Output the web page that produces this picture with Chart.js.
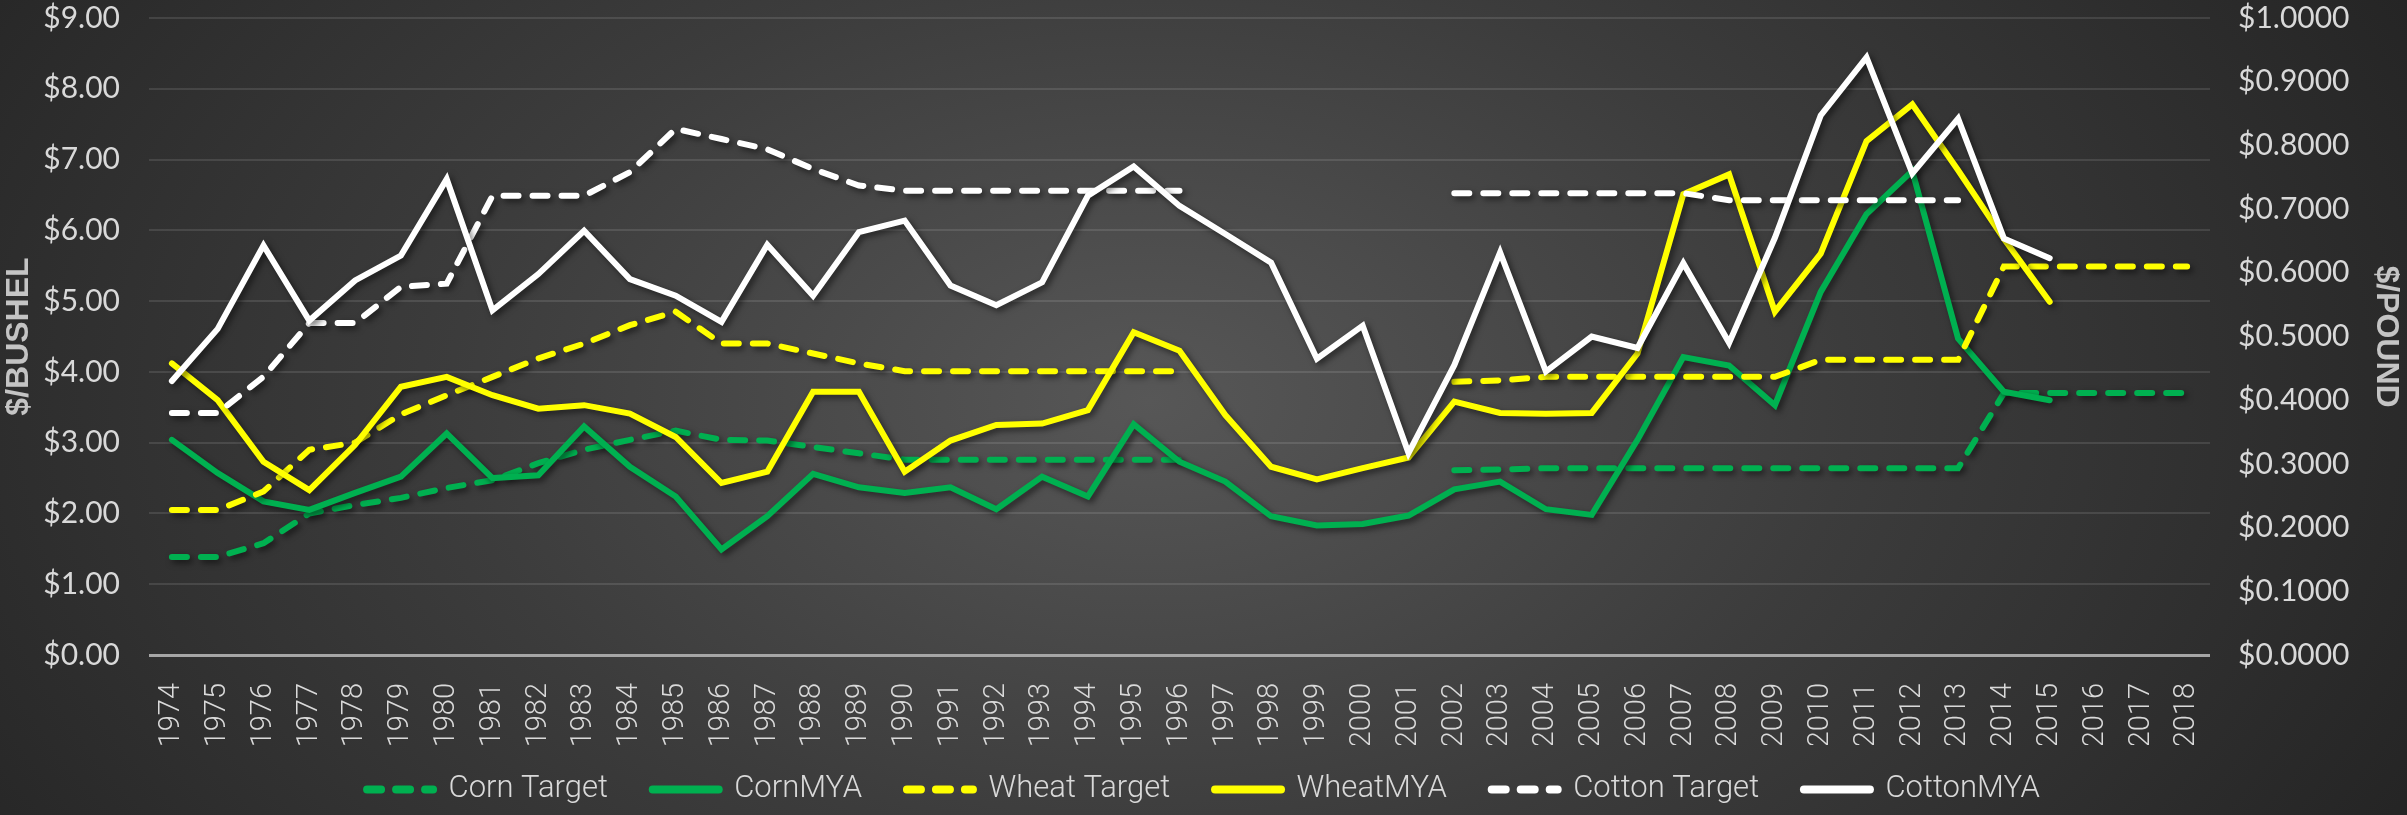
<!DOCTYPE html>
<html>
<head>
<meta charset="utf-8">
<script src="https://cdn.jsdelivr.net/npm/chart.js@4"></script>
<style>
  html, body { margin: 0; padding: 0; }
  body {
    width: 2407px; height: 815px; overflow: hidden;
    background: radial-gradient(ellipse 1400px 900px at 1150px 400px, #575757 0%, #3c3c3c 50%, #252525 100%);
  }
  canvas { display: block; }
</style>
</head>
<body>
<canvas id="myChart" width="2407" height="815"></canvas>
<script>
years = [];
for (let y = 1974; y <= 2018; y++) years.push(String(y));

// $/bushel
cornTarget = [1.385,1.385,1.58,2.00,2.12,2.22,2.36,2.47,2.71,2.90,3.04,3.17,3.04,3.03,2.94,2.85,2.76,2.76,2.76,2.76,2.76,2.76,2.76,
  null,null,null,null,null,2.61,2.62,2.64,2.64,2.64,2.64,2.64,2.64,2.64,2.64,2.64,2.64,3.70,3.70,3.70,3.70,3.70];
cornMYA = [3.04,2.57,2.17,2.05,2.29,2.52,3.13,2.50,2.54,3.23,2.66,2.24,1.49,1.96,2.56,2.37,2.29,2.37,2.06,2.52,2.24,3.26,2.73,
  2.45,1.96,1.83,1.85,1.97,2.34,2.45,2.06,1.98,3.04,4.21,4.09,3.53,5.13,6.23,6.84,4.47,3.72,3.60,null,null,null];
wheatTarget = [2.05,2.05,2.31,2.90,3.00,3.40,3.67,3.93,4.19,4.40,4.66,4.85,4.40,4.40,4.26,4.12,4.01,4.01,4.01,4.01,4.01,4.01,4.01,
  null,null,null,null,null,3.86,3.88,3.93,3.93,3.93,3.93,3.93,3.93,4.17,4.17,4.17,4.17,5.49,5.49,5.49,5.49,5.49];
wheatMYA = [4.12,3.60,2.73,2.33,2.97,3.79,3.93,3.67,3.48,3.53,3.41,3.08,2.43,2.59,3.72,3.72,2.59,3.03,3.25,3.27,3.46,4.56,4.30,
  3.39,2.66,2.48,2.64,2.79,3.58,3.42,3.41,3.42,4.26,6.51,6.79,4.85,5.67,7.26,7.78,6.85,5.88,4.99,null,null,null];
// $/pound
cottonTarget = [0.380,0.380,0.437,0.521,0.521,0.578,0.583,0.721,0.721,0.721,0.758,0.826,0.810,0.794,0.763,0.737,0.729,0.729,0.729,0.729,0.729,0.729,0.729,
  null,null,null,null,null,0.725,0.725,0.725,0.725,0.725,0.725,0.714,0.714,0.714,0.714,0.714,0.714,null,null,null,null,null];
cottonMYA = [0.430,0.512,0.643,0.525,0.588,0.627,0.747,0.541,0.598,0.666,0.590,0.564,0.523,0.644,0.564,0.664,0.682,0.580,0.549,0.585,0.721,0.767,0.705,
  0.661,0.616,0.465,0.517,0.317,0.455,0.632,0.445,0.500,0.482,0.615,0.490,0.655,0.847,0.938,0.756,0.842,0.654,0.623,null,null,null];

const GREEN = '#00b050', YELLOW = '#ffff00', WHITE = '#ffffff';
const DASH = [15, 14];

function series(label, data, color, dashed, axis, order) {
  return {
    label: label,
    data: data,
    borderColor: color,
    backgroundColor: color,
    borderWidth: 6,
    borderDash: dashed ? DASH : [],
    borderCapStyle: 'round',
    borderJoinStyle: 'miter',
    pointRadius: 0,
    tension: 0,
    spanGaps: false,
    yAxisID: axis,
    order: order
  };
}

// soft drop shadow under the lines, like the original
const shadow = {
  id: 'shadow',
  beforeDatasetsDraw(chart) {
    const c = chart.ctx;
    c.save();
    c.shadowColor = 'rgba(0,0,0,0.55)';
    c.shadowBlur = 6;
    c.shadowOffsetX = 3;
    c.shadowOffsetY = 3;
  },
  afterDatasetsDraw(chart) {
    chart.ctx.restore();
  }
};

// fixed axis widths, and no extra top/bottom padding from tick padding
function fixY(width) {
  return function (scale) {
    scale.width = width;
    scale.paddingTop = 0;
    scale.paddingBottom = 0;
  };
}

function makeChart() {
  const ctx = document.getElementById('myChart');
  new Chart(ctx, {
    type: 'line',
    data: {
      labels: years,
      datasets: [
        series('Corn Target', cornTarget, GREEN, true, 'y', 6),
        series('CornMYA', cornMYA, GREEN, false, 'y', 5),
        series('Wheat Target', wheatTarget, YELLOW, true, 'y', 4),
        series('WheatMYA', wheatMYA, YELLOW, false, 'y', 3),
        series('Cotton Target', cottonTarget, WHITE, true, 'y1', 2),
        series('CottonMYA', cottonMYA, WHITE, false, 'y1', 1)
      ]
    },
    plugins: [shadow],
    options: {
      responsive: false,
      animation: false,
      layout: { padding: { top: 18, left: 0, right: 0, bottom: 0 } },
      scales: {
        x: {
          offset: true,
          grid: { display: false },
          border: { display: false },
          ticks: {
            color: '#d9d9d9',
            font: { family: 'Roboto', size: 29, weight: 300 },
            autoSkip: false, maxRotation: 90, minRotation: 90, padding: 20
          },
          afterFit(scale) { scale.height = 90; }
        },
        y: {
          position: 'left',
          min: 0, max: 9,
          grid: {
            drawTicks: false,
            color: (c) => c.tick && c.tick.value === 0 ? '#a6a6a6' : 'rgba(255,255,255,0.11)',
            lineWidth: (c) => c.tick && c.tick.value === 0 ? 3 : 2
          },
          border: { display: false },
          ticks: {
            stepSize: 1, padding: 29, color: '#d9d9d9',
            font: { family: 'Lato', size: 30 },
            callback: (v) => '$' + Number(v).toFixed(2)
          },
          title: {
            display: true, text: '$/BUSHEL', color: '#c4c4c4', padding: 0,
            font: { family: 'Liberation Sans', size: 32, weight: 'bold' }
          },
          afterFit: fixY(149)
        },
        y1: {
          position: 'right',
          min: 0, max: 1,
          grid: { display: false, drawTicks: false },
          border: { display: false },
          ticks: {
            stepSize: 0.1, padding: 28, color: '#d9d9d9',
            font: { family: 'Lato', size: 30 },
            callback: (v) => '$' + Number(v).toFixed(4)
          },
          title: {
            display: true, text: '$/POUND', color: '#c4c4c4', padding: 2,
            font: { family: 'Liberation Sans', size: 32, weight: 'bold' }
          },
          afterFit: fixY(197)
        }
      },
      plugins: {
        tooltip: { enabled: false },
        legend: {
          position: 'bottom',
          labels: {
            color: '#d9d9d9',
            font: { family: 'Roboto', size: 31, weight: 300 },
            usePointStyle: true,
            pointStyle: 'line',
            pointStyleWidth: 66,
            padding: 29,
            sort: (a, b) => a.datasetIndex - b.datasetIndex,
            generateLabels(chart) {
              const items = Chart.defaults.plugins.legend.labels.generateLabels(chart);
              const n = chart.data.datasets.length;
              items.forEach((it) => {
                it.lineWidth = 8;
                it.pointStyle = 'line';
                it.lineCap = 'round';
                it.lineDash = chart.data.datasets[it.datasetIndex].borderDash.length ? [14, 15] : [];
                if (it.datasetIndex < n - 1) it.text = it.text + '\u2002';
              });
              return items;
            }
          }
        }
      }
    }
  });
}

makeChart();
</script>
</body>
</html>
